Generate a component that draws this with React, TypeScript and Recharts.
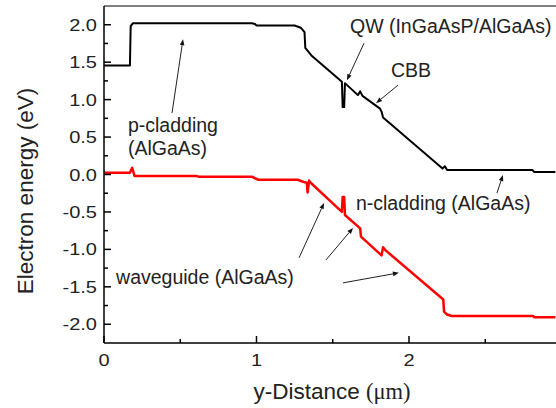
import { LineChart, Line, XAxis, YAxis, ReferenceLine, ReferenceDot } from "recharts";

// conduction band (black)
const cbbX = [0, 0.17, 0.175, 0.19, 0.97, 0.99, 1.0, 1.25, 1.29, 1.315, 1.32, 1.36, 1.56, 1.565, 1.575, 1.58, 1.665, 1.68, 1.695, 1.81, 1.82, 1.83, 2.22, 2.235, 2.25, 2.81, 2.82, 2.96];
const cbbY = [1.455, 1.455, 1.98, 2.02, 2.02, 2.01, 1.99, 1.99, 1.96, 1.9, 1.69, 1.59, 1.24, 0.9, 0.9, 1.22, 1.06, 1.11, 1.05, 0.88, 0.84, 0.76, 0.08, 0.11, 0.06, 0.06, 0.035, 0.035];

// valence band (red)
const vbbX = [0, 0.17, 0.185, 0.2, 0.61, 0.62, 0.97, 1.01, 1.27, 1.31, 1.33, 1.335, 1.345, 1.35, 1.56, 1.565, 1.575, 1.58, 1.68, 1.685, 1.82, 1.83, 1.845, 2.225, 2.23, 2.25, 2.28, 2.815, 2.82, 2.96];
const vbbY = [0.025, 0.025, 0.09, -0.02, -0.02, -0.03, -0.03, -0.07, -0.07, -0.1, -0.11, -0.24, -0.08, -0.1, -0.5, -0.3, -0.3, -0.54, -0.72, -0.83, -1.08, -0.97, -1.01, -1.67, -1.83, -1.87, -1.89, -1.89, -1.905, -1.905];

const xTicks = [0, 0.5, 1, 1.5, 2, 2.5];
const xMajor = [0, 1, 2];
const yTicks = [-2, -1.75, -1.5, -1.25, -1, -0.75, -0.5, -0.25, 0, 0.25, 0.5, 0.75, 1, 1.25, 1.5, 1.75, 2];
const yMajor = [-2, -1.5, -1, -0.5, 0, 0.5, 1, 1.5, 2];

// annotations (data coords, text starts at x, baseline at y)
const notes = [
  { text: "QW (InGaAsP/AlGaAs)", x: 1.613, y: 1.887 },
  { text: "CBB", x: 1.882, y: 1.3 },
  { text: "p-cladding", x: 0.157, y: 0.567 },
  { text: "(AlGaAs)", x: 0.157, y: 0.26 },
  { text: "n-cladding (AlGaAs)", x: 1.652, y: -0.473 },
  { text: "waveguide (AlGaAs)", x: 0.079, y: -1.46 },
];

const arrows = [
  { from: [0.446, 0.82], to: [0.518, 1.807] },
  { from: [1.705, 1.753], to: [1.593, 1.26] },
  { from: [1.928, 1.193], to: [1.784, 0.953] },
  { from: [2.577, -0.247], to: [2.616, -0.007] },
  { from: [1.279, -1.113], to: [1.443, -0.38] },
  { from: [1.456, -1.14], to: [1.633, -0.713] },
  { from: [1.567, -1.447], to: [1.934, -1.313] },
];

const cbb = cbbX.map((x, i) => ({ x, y: cbbY[i] }));
const vbb = vbbX.map((x, i) => ({ x, y: vbbY[i] }));

const FONT = "'Liberation Sans', Arial, sans-serif";

function YTick(props: any) {
  const { x, y, payload } = props;
  const v = payload.value;
  const major = yMajor.some((m) => Math.abs(m - v) < 1e-6);
  return (
    <g>
      <line x1={x} x2={x + (major ? 7 : 4)} y1={y} y2={y} stroke="#000" strokeWidth={1.5} />
      {major && (
        <g transform={`translate(${x - 7},${y + 6}) scale(1.25,1)`}>
          <text textAnchor="end" fontSize={16} fill="#222" fontFamily={FONT}>
            {v.toFixed(1)}
          </text>
        </g>
      )}
    </g>
  );
}

function XTick(props: any) {
  const { x, y, payload } = props;
  const v = payload.value;
  const major = xMajor.some((m) => Math.abs(m - v) < 1e-6);
  return (
    <g>
      <line x1={x} x2={x} y1={y} y2={y - (major ? 7 : 4)} stroke="#000" strokeWidth={1.5} />
      {major && (
        <g transform={`translate(${x},${y + 23}) scale(1.25,1)`}>
          <text textAnchor="middle" fontSize={16} fill="#222" fontFamily={FONT}>
            {String(v)}
          </text>
        </g>
      )}
    </g>
  );
}

function arrowShape(p: any) {
  const { x1, y1, x2, y2 } = p;
  const dx = x2 - x1;
  const dy = y2 - y1;
  const len = Math.hypot(dx, dy) || 1;
  const ux = dx / len;
  const uy = dy / len;
  const hl = 6;
  const hw = 2.3;
  const bx = x2 - ux * hl;
  const by = y2 - uy * hl;
  const pts = `${x2},${y2} ${bx - uy * hw},${by + ux * hw} ${bx + uy * hw},${by - ux * hw}`;
  return (
    <g>
      <line x1={x1} y1={y1} x2={bx} y2={by} stroke="#222" strokeWidth={1} />
      <polygon points={pts} fill="#111" />
    </g>
  );
}

export default function App() {
  return (
    <div style={{ position: "absolute", left: 0, top: 0, width: 556, height: 408, background: "#fff" }}>
      <LineChart width={556} height={408} margin={{ top: 6, right: 0, bottom: 0, left: 0 }}>
        <XAxis
          type="number"
          dataKey="x"
          domain={[0, 2.964]}
          allowDataOverflow
          ticks={xTicks}
          interval={0}
          height={65}
          tickSize={0}
          tickMargin={0}
          tickLine={false}
          tick={<XTick />}
          axisLine={{ stroke: "#000", strokeWidth: 1.5 }}
          label={{
            content: () => (
              <text x={332} y={399} textAnchor="middle" fontSize={22.5} fill="#222" fontFamily={FONT}>
                y-Distance <tspan fontFamily="'Liberation Serif', 'Times New Roman', serif">(μm)</tspan>
              </text>
            ),
          }}
        />
        <YAxis
          type="number"
          dataKey="y"
          domain={[-2.25, 2.25]}
          allowDataOverflow
          ticks={yTicks}
          interval={0}
          width={104}
          tickSize={0}
          tickMargin={0}
          tickLine={false}
          tick={<YTick />}
          axisLine={{ stroke: "#000", strokeWidth: 1.5 }}
          label={{
            content: () => (
              <text
                x={33}
                y={191}
                transform="rotate(-90 33 191)"
                textAnchor="middle"
                fontSize={22.5}
                fill="#222"
                fontFamily={FONT}
              >
                Electron energy (eV)
              </text>
            ),
          }}
        />
        <ReferenceLine y={2.25} stroke="#000" strokeWidth={1} />
        <Line
          data={vbb}
          dataKey="y"
          type="linear"
          stroke="#ff0000"
          strokeWidth={2.5}
          strokeLinejoin="round"
          dot={false}
          isAnimationActive={false}
        />
        <Line
          data={cbb}
          dataKey="y"
          type="linear"
          stroke="#000"
          strokeWidth={2}
          strokeLinejoin="round"
          dot={false}
          isAnimationActive={false}
        />
        {arrows.map((a, i) => (
          <ReferenceLine
            key={`arrow-${i}`}
            segment={[
              { x: a.from[0], y: a.from[1] },
              { x: a.to[0], y: a.to[1] },
            ]}
            ifOverflow="visible"
            shape={arrowShape}
          />
        ))}
        {notes.map((n, i) => (
          <ReferenceDot
            key={`note-${i}`}
            x={n.x}
            y={n.y}
            r={0}
            ifOverflow="visible"
            shape={(p: any) => (
              <text x={p.cx} y={p.cy} fontSize={19.5} fill="#222" fontFamily={FONT}>
                {n.text}
              </text>
            )}
          />
        ))}
      </LineChart>
    </div>
  );
}
